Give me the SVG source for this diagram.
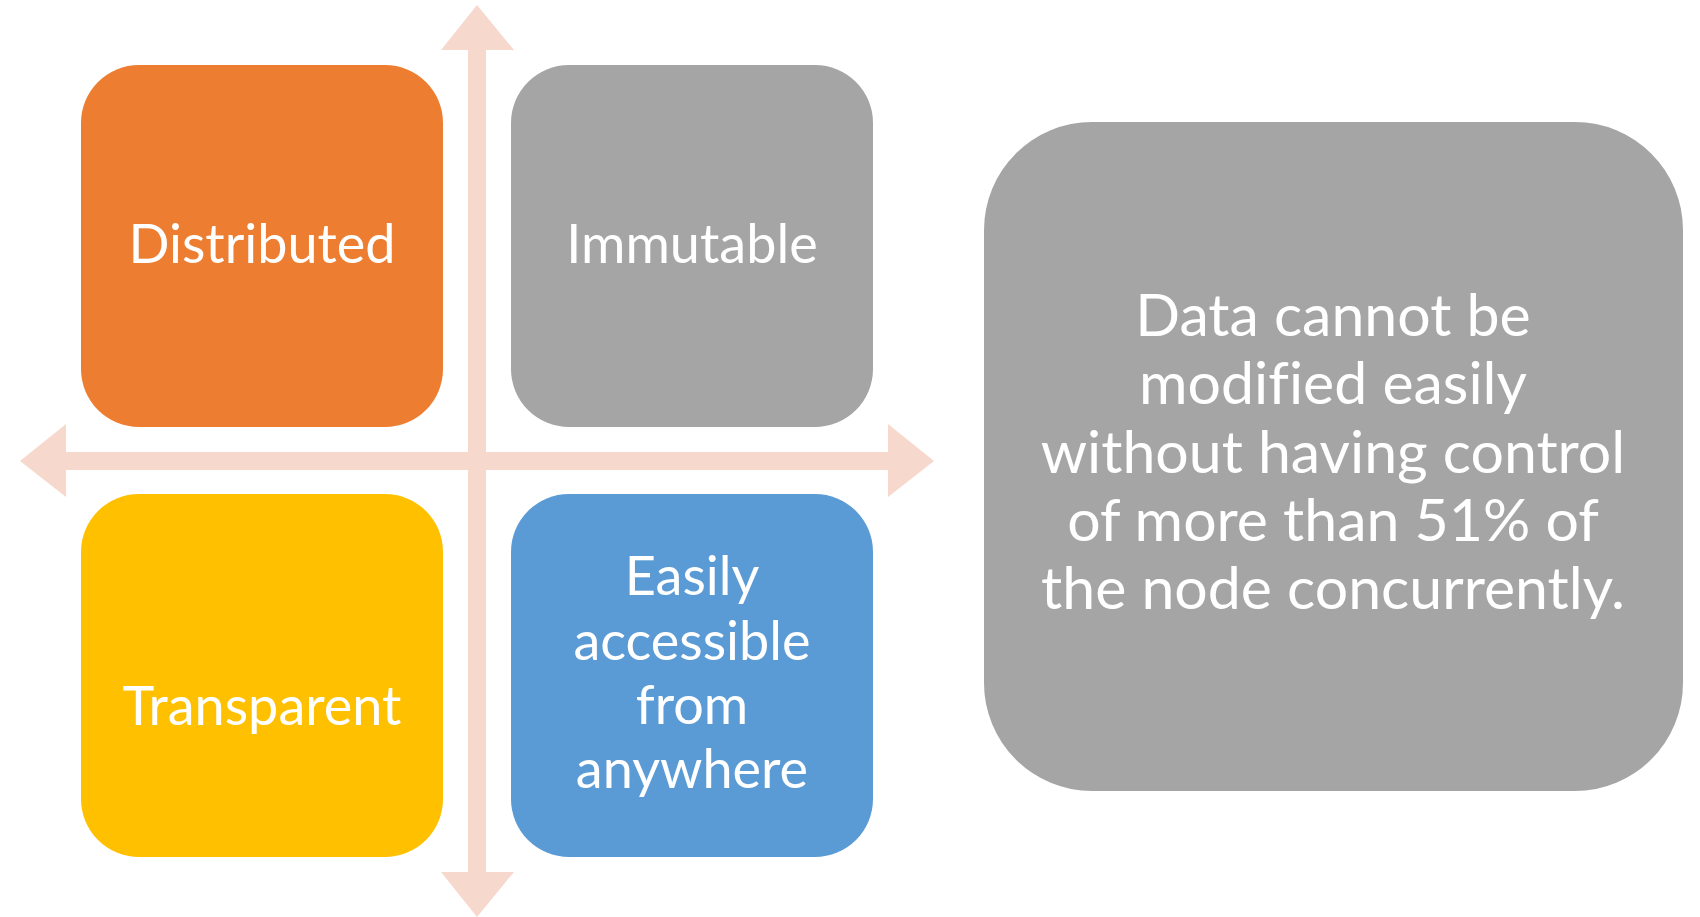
<svg xmlns="http://www.w3.org/2000/svg" width="1700" height="917" viewBox="0 0 1700 917">
<style>
.lbl{font-family:Lato,"Open Sans","Liberation Sans",sans-serif;fill:#fff;text-anchor:middle;font-size:54px;font-variant-ligatures:none}
.big{font-size:59px}
.arrow{fill:#F7D8CD}
</style>
<rect width="1700" height="917" fill="#fff"/>
<g id="connectors">
<polygon class="arrow" points="477,5 514,50 486,50 486,872 514,872 477,917 441,872 468,872 468,50 441,50"/>
<polygon class="arrow" points="20,461 66,424 66,452 888,452 888,424 934,461 888,497 888,470 66,470 66,497"/>
</g>
<g id="distributed">
<rect x="81" y="65" width="362" height="362" rx="58" fill="#ED7D31"/>
<text class="lbl" x="262" y="263">Distributed</text>
</g>
<g id="immutable">
<rect x="511" y="65" width="362" height="362" rx="58" fill="#A5A5A5"/>
<text class="lbl" x="692" y="263">Immutable</text>
</g>
<g id="transparent">
<rect x="81" y="494" width="362" height="363" rx="58" fill="#FFC000"/>
<text class="lbl" x="262" y="725">Transparent</text>
</g>
<g id="accessible">
<rect x="511" y="494" width="362" height="363" rx="58" fill="#5B9BD5"/>
<text class="lbl" x="692" y="595">Easily</text>
<text class="lbl" x="692" y="660">accessible</text>
<text class="lbl" x="692" y="724">from</text>
<text class="lbl" x="692" y="788">anywhere</text>
</g>
<g id="detail">
<rect x="984" y="122" width="699" height="669" rx="108" fill="#A5A5A5"/>
<text class="lbl big" x="1333" y="336">Data cannot be</text>
<text class="lbl big" x="1333" y="404">modified easily</text>
<text class="lbl big" x="1333" y="473">without having control</text>
<text class="lbl big" x="1333" y="541">of more than 51% of</text>
<text class="lbl big" x="1333" y="609">the node concurrently.</text>
</g>
</svg>
